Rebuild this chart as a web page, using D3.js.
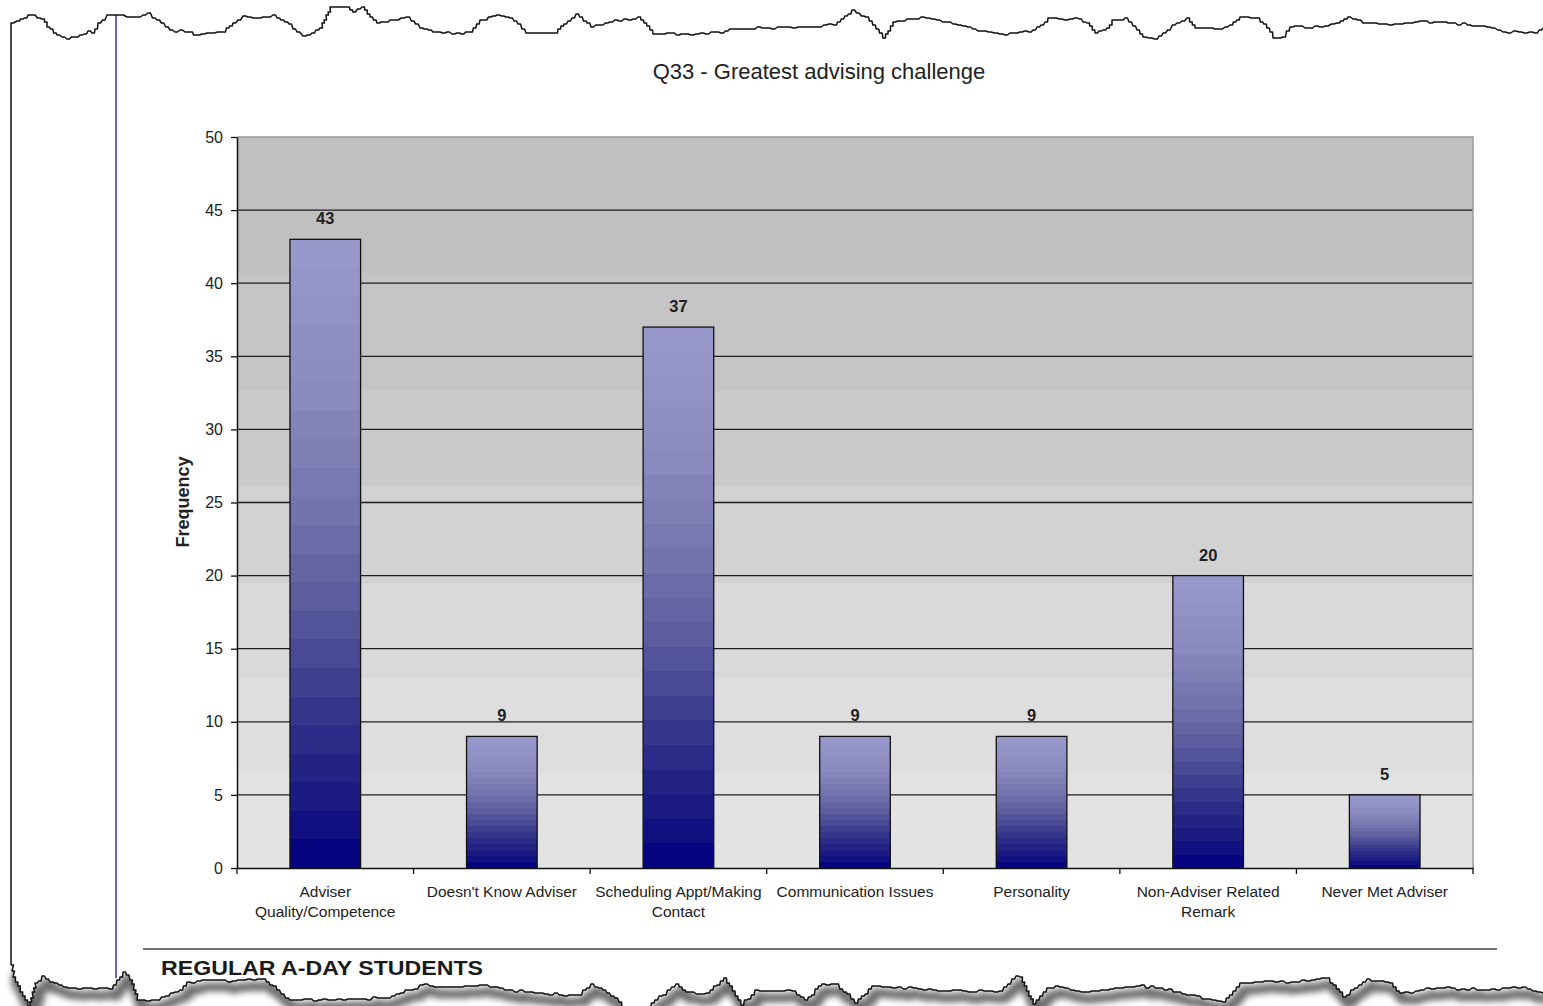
<!DOCTYPE html>
<html>
<head>
<meta charset="utf-8">
<script src="https://cdn.jsdelivr.net/npm/d3@7"></script>
<style>
  html, body { margin: 0; padding: 0; background: #ffffff; }
  svg { display: block; }
</style>
</head>
<body>
<svg id="chart" width="1543" height="1006"></svg>
<script>
// ---- chart data ----
const categories = [
  "Adviser Quality/Competence",
  "Doesn't Know Adviser",
  "Scheduling Appt/Making Contact",
  "Communication Issues",
  "Personality",
  "Non-Adviser Related Remark",
  "Never Met Adviser"
];
const categoryLines = [
  ["Adviser", "Quality/Competence"],
  ["Doesn't Know Adviser"],
  ["Scheduling Appt/Making", "Contact"],
  ["Communication Issues"],
  ["Personality"],
  ["Non-Adviser Related", "Remark"],
  ["Never Met Adviser"]
];
const frequencies = [43, 9, 37, 9, 9, 20, 5];
const yTicks = [0, 5, 10, 15, 20, 25, 30, 35, 40, 45, 50];
const chartTitle = "Q33 - Greatest advising challenge";
const yAxisTitle = "Frequency";
const sectionHeading = "REGULAR A-DAY STUDENTS";

// ---- torn page outline (decoration) ----
const topEdge = [
  [11,23],[17,21],[28,15],[42,19],[47,27],[57,35],[67,39],[80,35],[88,31],[92,33],
  [98,23],[107,15],[115,15],[127,17],[138,17],[148,13],[157,20],[170,30],[190,32],
  [197,35],[212,33],[223,32],[233,23],[243,16],[253,18],[263,17],[273,15],[285,22],
  [297,32],[303,36],[312,33],[320,28],[330,7],[347,7],[353,12],[362,7],[370,17],
  [377,23],[390,20],[407,17],[420,28],[433,32],[447,32],[457,33],[470,32],[480,20],
  [497,15],[510,18],[514,21],[526,33],[555,33],[564,24],[576,14],[591,27],[610,22],
  [638,17],[653,34],[686,34],[721,33],[734,29],[762,28],[793,28],[834,25],[852,10],
  [866,17],[883,38],[893,22],[921,17],[948,22],[983,31],[1000,34],[1020,32],[1033,30],
  [1045,22],[1048,18],[1065,20],[1075,18],[1087,23],[1095,33],[1107,28],[1112,20],
  [1125,18],[1137,30],[1143,37],[1155,39],[1163,33],[1177,23],[1187,18],[1195,28],
  [1220,29],[1230,25],[1240,17],[1257,18],[1267,28],[1273,38],[1283,37],[1290,27],
  [1320,27],[1337,23],[1348,17],[1363,23],[1400,24],[1420,21],[1453,23],[1487,27],
  [1503,32],[1535,33],[1543,28]
];
const bottomEdge = [
  [11,965],[13,977],[25,1000],[28,1006],[35,983],[42,976],[50,982],[73,988],[110,989],
  [117,980],[123,972],[130,980],[137,1000],[157,1000],[180,990],[187,982],[213,980],
  [233,981],[263,979],[277,990],[290,1000],[333,1000],[383,998],[410,990],[420,985],
  [460,987],[480,985],[510,990],[545,994],[579,995],[591,984],[603,990],[619,1002],
  [622,1008],[648,1008],[655,1000],[676,984],[686,992],[707,993],[724,978],[741,1005],
  [755,990],[776,991],[793,991],[805,1000],[822,984],[836,984],[855,1003],[872,986],
  [914,988],[948,991],[1000,991],[1016,976],[1020,977],[1033,1004],[1047,988],
  [1060,987],[1087,992],[1120,988],[1137,986],[1160,988],[1187,995],[1223,1002],
  [1240,983],[1270,981],[1297,982],[1327,978],[1343,997],[1367,979],[1390,983],
  [1400,993],[1437,988],[1487,990],[1523,987],[1543,993]
];

// ---- layout ----
const W = 1543, H = 1006;
const plot = { left: 237, right: 1473, top: 137, bottom: 868 };
const FONT = "'Liberation Sans', Arial, Helvetica, sans-serif";

const svg = d3.select("#chart");
const defs = svg.append("defs");

// roughen the page edges into small stair steps
const rng = d3.randomLcg(0.4217);
function roughen(points) {
  const out = [];
  for (let i = 0; i < points.length - 1; i++) {
    const [x0, y0] = points[i], [x1, y1] = points[i + 1];
    const n = Math.max(1, Math.round(Math.hypot(x1 - x0, y1 - y0) / 5));
    for (let k = 0; k < n; k++) {
      const t = k / n;
      const jitter = (k === 0) ? 0 : Math.round((rng() - 0.5) * 2);
      const px = x0 + (x1 - x0) * t, py = Math.round(y0 + (y1 - y0) * t) + jitter;
      out.push([px, py]);
      out.push([px + 2.5, py]);
    }
  }
  out.push(points[points.length - 1]);
  return out;
}
const topPts = roughen(topEdge);
const botPts = roughen(bottomEdge);
const line = d3.line();

// drop shadow under the torn bottom edge
const blur = defs.append("filter").attr("id", "edgeShadow")
  .attr("x", "-5%").attr("y", "-200%").attr("width", "110%").attr("height", "500%");
blur.append("feGaussianBlur").attr("stdDeviation", 3.2);

svg.append("path")
  .attr("d", line(botPts))
  .attr("transform", "translate(4,7)")
  .attr("fill", "none")
  .attr("stroke", "#6c6c6c")
  .attr("stroke-width", 9)
  .attr("filter", "url(#edgeShadow)");

// paper sheet
const sheet = topPts.concat([[W, topPts[topPts.length - 1][1]], [W, botPts[botPts.length - 1][1]]])
  .concat(botPts.slice().reverse());
svg.append("path")
  .attr("d", line(sheet) + "Z")
  .attr("fill", "#ffffff")
  .attr("stroke", "none");

// margin rule
svg.append("line")
  .attr("x1", 116).attr("x2", 116).attr("y1", 15).attr("y2", 978)
  .attr("stroke", "#2e2eb0").attr("stroke-width", 1.5);

// sheet outline: left side plus torn top, and torn bottom
svg.append("path")
  .attr("d", line([[11, 965]].concat(topPts)))
  .attr("fill", "none").attr("stroke", "#111").attr("stroke-width", 1.5)
  .attr("stroke-linejoin", "round");
svg.append("path")
  .attr("d", line(botPts))
  .attr("fill", "none").attr("stroke", "#111").attr("stroke-width", 1.5)
  .attr("stroke-linejoin", "round");

// ---- scales ----
const x = d3.scaleBand()
  .domain(categories)
  .range([plot.left, plot.right])
  .paddingInner(0.6)
  .paddingOuter(0.3);
const y = d3.scaleLinear().domain([0, 50]).range([plot.bottom, plot.top]);

// plot-area fill: stepped grey gradient, darker at the top
const bgStops = [
  [0.000, "#c0c0c0"], [0.186, "#c5c5c5"], [0.347, "#cbcbcb"], [0.477, "#d2d2d2"],
  [0.610, "#d9d9d9"], [0.740, "#dedede"], [0.870, "#e3e3e3"], [1.000, "#e3e3e3"]
];
const bgGrad = defs.append("linearGradient").attr("id", "plotBg")
  .attr("gradientUnits", "userSpaceOnUse")
  .attr("x1", 0).attr("x2", 0).attr("y1", plot.top).attr("y2", plot.bottom);
for (let i = 0; i < bgStops.length - 1; i++) {
  bgGrad.append("stop").attr("offset", bgStops[i][0]).attr("stop-color", bgStops[i][1]);
  bgGrad.append("stop").attr("offset", bgStops[i + 1][0]).attr("stop-color", bgStops[i][1]);
}
svg.append("rect")
  .attr("x", plot.left).attr("y", plot.top)
  .attr("width", plot.right - plot.left).attr("height", plot.bottom - plot.top)
  .attr("fill", "url(#plotBg)");

// bar fill: banded lavender-to-navy gradient
const barColor = d3.scaleLinear()
  .domain([0, 0.25, 0.45, 0.6, 0.75, 0.9, 1])
  .range(["#9999cc", "#8a8ac0", "#7171ab", "#56569b", "#35358b", "#181880", "#000080"])
  .interpolate(d3.interpolateRgb);
const barGrad = defs.append("linearGradient").attr("id", "barFill")
  .attr("x1", 0).attr("x2", 0).attr("y1", 0).attr("y2", 1);
const nBands = 22;
for (let i = 0; i < nBands; i++) {
  const c = barColor((i + 0.5) / nBands);
  barGrad.append("stop").attr("offset", i / nBands).attr("stop-color", c);
  barGrad.append("stop").attr("offset", (i + 1) / nBands).attr("stop-color", c);
}

// gridlines
svg.append("g").selectAll("line")
  .data(yTicks.filter(v => v > 0 && v < 50))
  .join("line")
  .attr("x1", plot.left).attr("x2", plot.right)
  .attr("y1", d => y(d)).attr("y2", d => y(d))
  .attr("stroke", "#1e1e1e").attr("stroke-width", 1.3);

// plot border (top / right)
svg.append("path")
  .attr("d", `M${plot.left},${y(50)}H${plot.right}V${plot.bottom}`)
  .attr("fill", "none").attr("stroke", "#9a9a9a").attr("stroke-width", 1.5);

// bars
svg.append("g").selectAll("rect")
  .data(frequencies)
  .join("rect")
  .attr("x", (d, i) => x(categories[i]))
  .attr("y", d => y(d))
  .attr("width", x.bandwidth())
  .attr("height", d => y(0) - y(d))
  .attr("fill", "url(#barFill)")
  .attr("stroke", "#111").attr("stroke-width", 1.3);

// value labels
svg.append("g").selectAll("text")
  .data(frequencies)
  .join("text")
  .attr("x", (d, i) => x(categories[i]) + x.bandwidth() / 2)
  .attr("y", d => y(d) - 15)
  .attr("text-anchor", "middle")
  .attr("font-family", FONT).attr("font-size", 16.5).attr("font-weight", "bold")
  .attr("fill", "#222")
  .text(d => d);

// y axis
const yAxis = svg.append("g")
  .attr("transform", `translate(${plot.left},0)`)
  .call(d3.axisLeft(y).tickValues(yTicks).tickSize(6).tickSizeOuter(0).tickPadding(8));
yAxis.select(".domain").attr("stroke", "#111").attr("stroke-width", 1.5);
yAxis.selectAll(".tick line").attr("stroke", "#111").attr("stroke-width", 1.3);
yAxis.selectAll(".tick text")
  .attr("font-family", FONT).attr("font-size", 16).attr("fill", "#222");

// x axis: baseline with ticks on category boundaries
const xAxis = svg.append("g")
  .attr("transform", `translate(0,${plot.bottom})`)
  .call(d3.axisBottom(x).tickSize(0).tickSizeOuter(0).tickFormat(""));
xAxis.select(".domain").attr("stroke", "#111").attr("stroke-width", 1.5);
xAxis.selectAll(".tick").remove();
const boundaries = d3.range(categories.length + 1).map(i => x.range()[0] + i * x.step());
xAxis.append("g").selectAll("line")
  .data(boundaries)
  .join("line")
  .attr("x1", d => d).attr("x2", d => d)
  .attr("y1", 0).attr("y2", 6)
  .attr("stroke", "#111").attr("stroke-width", 1.3);

// category labels
const catLabels = svg.append("g").selectAll("text")
  .data(categoryLines)
  .join("text")
  .attr("text-anchor", "middle")
  .attr("font-family", FONT).attr("font-size", 15.5).attr("fill", "#222");
catLabels.each(function (lines, i) {
  const cx = x(categories[i]) + x.bandwidth() / 2;
  d3.select(this).selectAll("tspan")
    .data(lines)
    .join("tspan")
    .attr("x", cx)
    .attr("y", (d, k) => 897 + k * 19.5)
    .text(d => d);
});

// titles
svg.append("text")
  .attr("x", 819).attr("y", 79)
  .attr("text-anchor", "middle")
  .attr("font-family", FONT).attr("font-size", 22).attr("fill", "#222")
  .text(chartTitle);

svg.append("text")
  .attr("transform", "translate(189,502) rotate(-90)")
  .attr("text-anchor", "middle")
  .attr("font-family", FONT).attr("font-size", 18).attr("font-weight", "bold")
  .attr("fill", "#222")
  .text(yAxisTitle);

// section footer
svg.append("line")
  .attr("x1", 143).attr("x2", 1497).attr("y1", 949).attr("y2", 949)
  .attr("stroke", "#444").attr("stroke-width", 1.5);
svg.append("text")
  .attr("x", 161).attr("y", 975)
  .attr("font-family", FONT).attr("font-size", 21).attr("font-weight", "bold")
  .attr("fill", "#1a1a1a")
  .attr("textLength", 322).attr("lengthAdjust", "spacingAndGlyphs")
  .text(sectionHeading);
</script>
</body>
</html>
